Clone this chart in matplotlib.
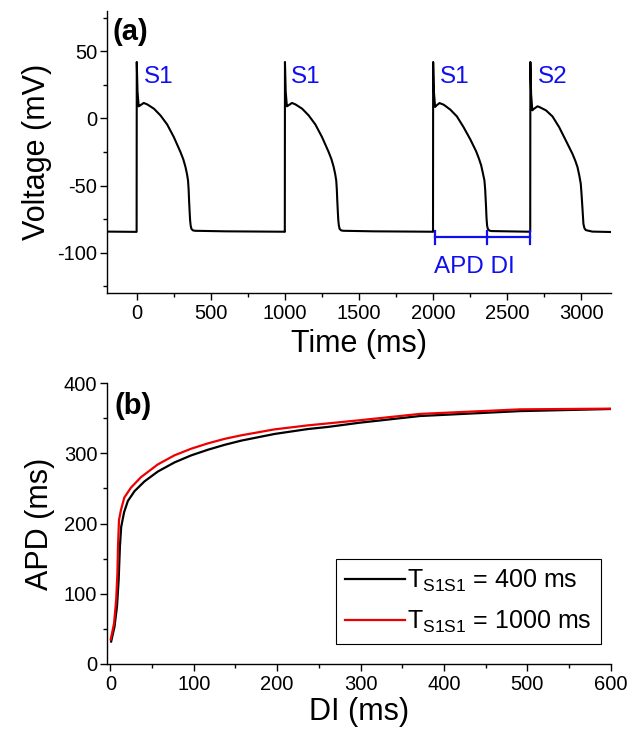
import matplotlib
matplotlib.use("Agg")
import matplotlib.pyplot as plt
from matplotlib.ticker import MultipleLocator

# --------------------------------------
# DATA
# --------------------------------------
# panel (a): membrane voltage trace, S1-S1-S1-S2 protocol
time_ms = [
    -200, 0, 1, 6, 14, 22, 48, 72, 117, 161, 206, 251, 296, 315, 330, 340, 347,
    351, 354, 358, 361, 365, 370, 380, 395, 600, 999,
    1000, 1001, 1006, 1014, 1022, 1048, 1072, 1117, 1161, 1206, 1251, 1296, 1315,
    1330, 1340, 1347, 1351, 1354, 1358, 1361, 1365, 1370, 1380, 1395, 1600, 1999,
    2000, 2001, 2006, 2014, 2022, 2044, 2072, 2117, 2161, 2206, 2251, 2291, 2310,
    2325, 2337, 2347, 2352, 2358, 2361, 2365, 2370, 2381, 2395, 2500, 2655,
    2656, 2657, 2662, 2670, 2680, 2705, 2717, 2762, 2806, 2851, 2896, 2941, 2960,
    2975, 2988, 2997, 3002, 3008, 3015, 3022, 3031, 3075, 3200,
]
voltage_mv = [
    -84.3, -84.5, 42, 20, 9, 9.5, 11.5, 10.4, 7.2, 2.2, -4.5, -13.9, -25.1, -30.5,
    -36.3, -41.5, -46.3, -53, -61.2, -70, -76, -80, -82.3, -83.4, -83.7, -84.1,
    -84.4,
    -84.5, 42, 20, 9, 9.5, 11.5, 10.4, 7.2, 2.2, -4.5, -13.9, -25.1, -30.5,
    -36.3, -41.5, -46.3, -53, -61.2, -70, -76, -80, -82.3, -83.4, -83.7, -84.1,
    -84.4,
    -84.5, 42, 20, 8.5, 9.5, 11.4, 10.2, 6.5, 1.5, -6.5, -15.5, -24.5, -30,
    -35, -41, -46.3, -53, -66.2, -74, -79.9, -82.3, -83.6, -83.9, -84.1, -84.4,
    -84.5, 42, 18, 6, 7, 9, 8.5, 6, 1.5, -6.5, -16.4, -26.4, -31.5,
    -36.3, -43, -48.7, -56, -66.2, -78.6, -81.8, -83.2, -84.3, -84.6,
]

# stimulus labels
stim_labels = ["S1", "S1", "S1", "S2"]
stim_label_t = [49, 1043, 2049, 2708]

# APD / DI marker for the third beat
apd_start, apd_end, di_end = 2015, 2365, 2654

# panel (b): restitution curves
di_400 = [1, 5, 8, 10, 11.5, 13, 16.5, 21, 29, 41, 57, 77, 97, 117, 137, 157,
          197, 237, 261, 299, 371, 491, 600]
apd_400 = [32, 53, 82, 120, 167, 195, 216, 232, 246, 260, 274, 287, 297, 305,
           312, 318, 327.5, 334.5, 337.5, 343.5, 353, 360, 363]
di_1000 = [0.5, 4.5, 7, 8.5, 9.2, 10.4, 12.7, 16.8, 24.7, 36.8, 56.8, 76.8, 97,
           116.8, 137, 156.8, 196.8, 236.8, 260.8, 299, 371, 491, 600]
apd_1000 = [35, 58, 91, 129, 167, 205, 219, 237, 251, 266, 284, 297, 306.5,
            314, 320.5, 325.5, 334, 339.7, 342.5, 347, 356, 362.5, 363.5]

# --------------------------------------
# STYLE
# --------------------------------------
plt.rcParams["font.family"] = ["Liberation Sans", "DejaVu Sans"]
plt.rcParams["mathtext.fontset"] = "custom"
plt.rcParams["mathtext.rm"] = "Liberation Sans"
plt.rcParams["axes.linewidth"] = 1.0
plt.rcParams["axes.unicode_minus"] = False

blue = "#1010ee"

fig = plt.figure(figsize=(6.33, 7.35), dpi=100)
ax_a = fig.add_axes([0.169, 0.6014, 0.796, 0.3837])
ax_b = fig.add_axes([0.169, 0.0966, 0.796, 0.3823])


def style_axes(ax):
    ax.spines["top"].set_visible(False)
    ax.spines["right"].set_visible(False)
    ax.tick_params(which="major", direction="out", length=5, width=1.0,
                   labelsize=14.5)
    ax.tick_params(which="minor", direction="out", length=3, width=1.0)
    ax.tick_params(axis="x", which="major", pad=3)
    ax.tick_params(axis="y", which="major", pad=2)


# --------------------------------------
# PANEL (a)
# --------------------------------------
ax_a.plot(time_ms, voltage_mv, color="black", lw=1.5)
for lab, t in zip(stim_labels, stim_label_t):
    ax_a.text(t, 26, lab, color=blue, fontsize=17.5, ha="left", va="baseline")

bar_y = -88.5
ax_a.plot([apd_start, di_end], [bar_y, bar_y], color=blue, lw=1.6)
for xc in [apd_start, apd_end, di_end]:
    ax_a.plot([xc, xc], [bar_y - 5, bar_y + 5], color=blue, lw=1.6)
ax_a.text(apd_start - 6, -115, "APD DI", color=blue, fontsize=17.5,
          ha="left", va="baseline")

ax_a.set_xlim(-200, 3200)
ax_a.set_ylim(-130, 80)
ax_a.xaxis.set_major_locator(MultipleLocator(500))
ax_a.xaxis.set_minor_locator(MultipleLocator(250))
ax_a.yaxis.set_major_locator(MultipleLocator(50))
ax_a.yaxis.set_minor_locator(MultipleLocator(25))
style_axes(ax_a)
ax_a.set_xlabel("Time (ms)", fontsize=22, labelpad=4)
ax_a.set_ylabel("Voltage (mV)", fontsize=22, labelpad=4)
ax_a.text(0.01, 0.975, "(a)", transform=ax_a.transAxes, fontsize=21,
          fontweight="bold", ha="left", va="top")

# --------------------------------------
# PANEL (b)
# --------------------------------------
ax_b.plot(di_400, apd_400, color="black", lw=1.6,
          label=r"$\mathrm{T_{S1S1}}$ = 400 ms")
ax_b.plot(di_1000, apd_1000, color="#ee0000", lw=1.6,
          label=r"$\mathrm{T_{S1S1}}$ = 1000 ms")
ax_b.set_xlim(-4, 600)
ax_b.set_ylim(0, 400)
ax_b.xaxis.set_major_locator(MultipleLocator(100))
ax_b.xaxis.set_minor_locator(MultipleLocator(50))
ax_b.yaxis.set_major_locator(MultipleLocator(100))
ax_b.yaxis.set_minor_locator(MultipleLocator(50))
style_axes(ax_b)
ax_b.set_xlabel("DI (ms)", fontsize=22, labelpad=2)
ax_b.set_ylabel("APD (ms)", fontsize=22, labelpad=6)
ax_b.text(0.014, 0.969, "(b)", transform=ax_b.transAxes, fontsize=21,
          fontweight="bold", ha="left", va="top")

leg = ax_b.legend(loc="lower right", bbox_to_anchor=(0.980, 0.071),
                  borderaxespad=0, fontsize=18, handlelength=2.4,
                  handletextpad=0.1, borderpad=0.35, labelspacing=0.6,
                  fancybox=False, framealpha=1, edgecolor="black")
leg.get_frame().set_linewidth(0.8)

fig.savefig("out.png", dpi=100)
